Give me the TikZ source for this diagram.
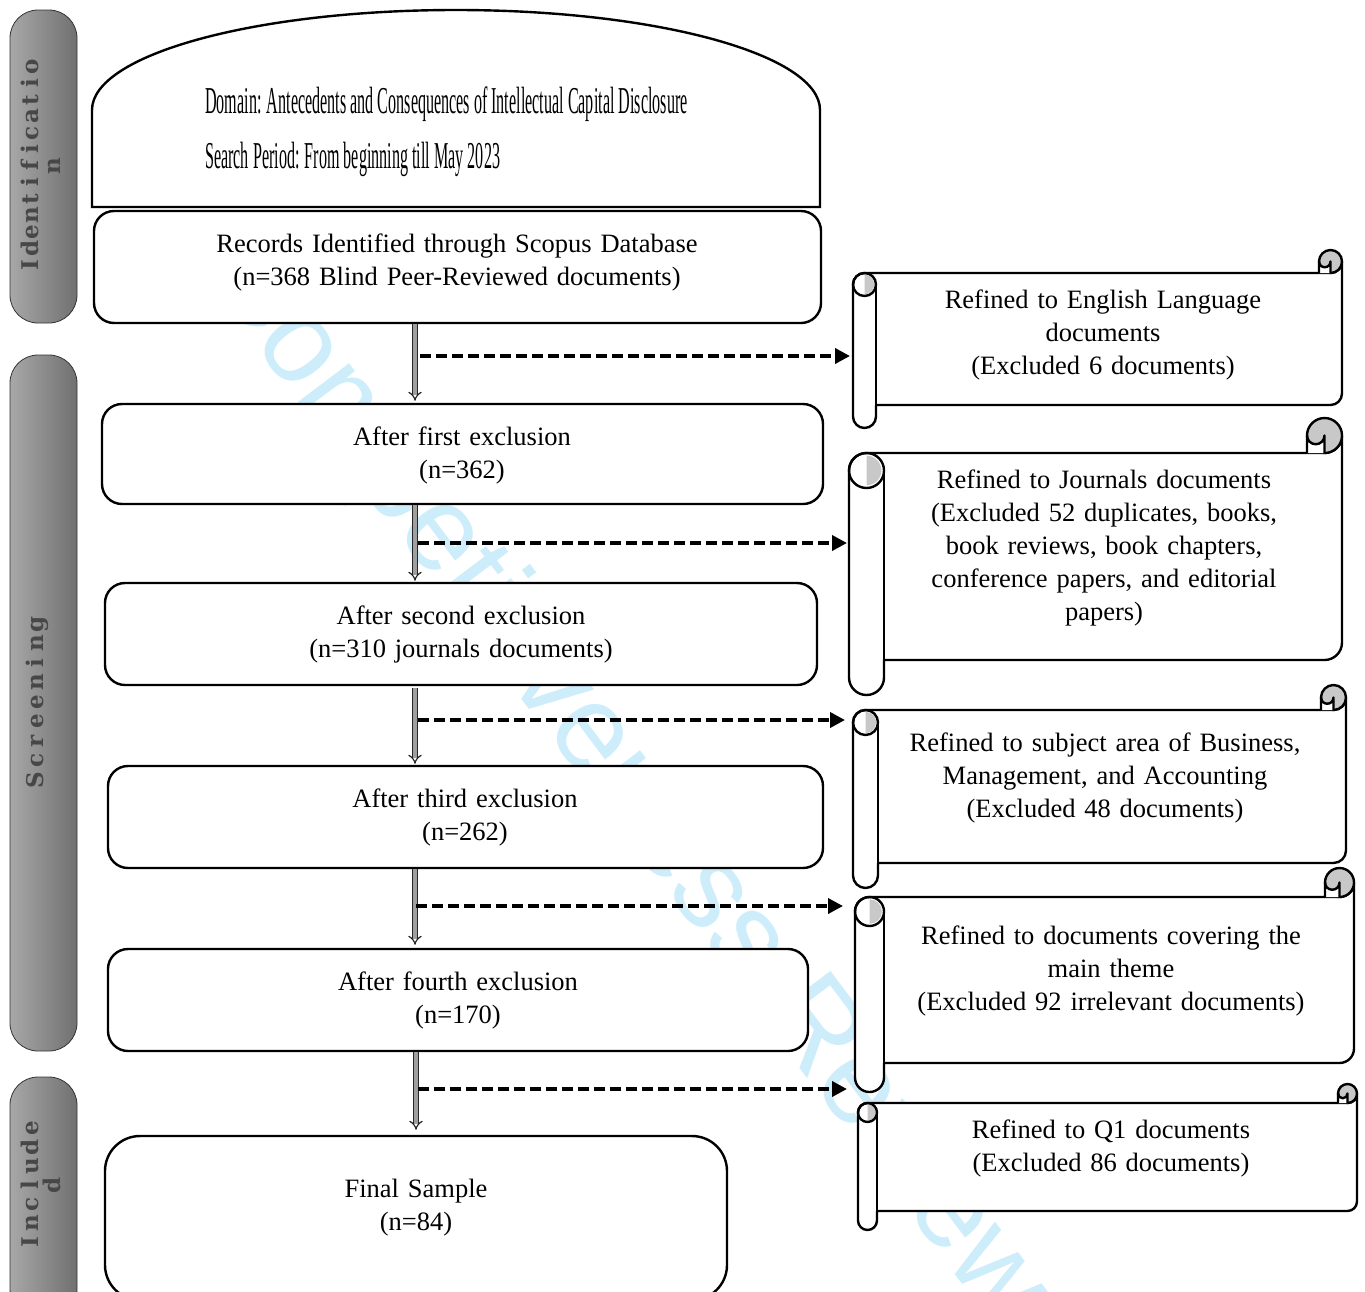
\documentclass[tikz,border=0pt]{standalone}
\usepackage{fontspec}
\setmainfont{Liberation Serif}
\newfontfamily\wmfont{Liberation Sans}
\newfontfamily\barfont{DejaVu Serif}
\usetikzlibrary{arrows.meta,calc}
\definecolor{barL}{RGB}{168,168,168}
\definecolor{barR}{RGB}{112,112,112}
\definecolor{wmcol}{RGB}{206,237,251}
\definecolor{rollgray}{RGB}{200,200,200}
\makeatletter
\newcommand\pitched[2]{\def\pcw{#1}\@tfor\pcc:=#2\do{\makebox[\pcw][c]{\pcc}}}
\makeatother
\newcommand\scrollshape[5]{%
  \pgfmathsetmacro\sL{#1}\pgfmathsetmacro\sT{#2}\pgfmathsetmacro\sR{#3}%
  \pgfmathsetmacro\sB{#4}\pgfmathsetmacro\sc{#5}\pgfmathsetmacro\sh{#5/2}%
  \draw[sline, fill=white] ({\sL},{\sT+\sc+\sh}) arc[start angle=180, end angle=270, radius=\sh]
    -- ({\sR-\sh},{\sT+\sc}) arc[start angle=90, end angle=0, radius=\sh]
    -- ({\sR},{\sB-\sc-\sh}) arc[start angle=0, end angle=90, radius=\sh]
    -- ({\sL+\sc},{\sB-\sc}) -- ({\sL+\sc},{\sB-\sh})
    arc[start angle=0, end angle=180, radius=\sh] -- cycle;
  \fill[rollgray] ({\sL+\sh},{\sT+\sc+\sh*0.15}) arc[start angle=270, end angle=450, radius=\sh*0.85] -- cycle;
  \draw[sline] ({\sL+\sh},{\sT+\sc+\sh}) circle[radius=\sh];
  \draw[sline] ({\sL+\sc},{\sT+\sc+\sh}) -- ({\sL+\sc},{\sB-\sc});
  \draw[sline, fill=rollgray] ({\sR-\sh},{\sT+\sh}) circle[radius=\sh];
  \draw[sline, fill=white] ({\sR-\sc},{\sT+\sc}) -- ({\sR-\sc},{\sT+\sh})
    arc[start angle=180, end angle=0, radius=\sh/2] -- ({\sR-\sh},{\sT+\sc});
}
\begin{document}
\begin{tikzpicture}[x=1pt,y=-1pt,
  lbox/.style={draw, line width=2.4pt, fill=white, rounded corners=20pt, inner sep=0pt},
  txt/.style={font=\fontsize{26.5}{33}\selectfont, text width=720pt, align=center, anchor=base, inner sep=0pt},
  hdr/.style={font=\fontsize{38}{38}\selectfont, anchor=base west, inner sep=0pt},
  bar/.style={draw=black!80, line width=0.8pt, rounded corners=28pt, left color=barL, right color=barR, inner sep=0pt},
  bartxt/.style={rotate=90, font=\barfont\bfseries\fontsize{23}{22}\selectfont, text=black!72, align=center, inner sep=0pt},
  vconn/.style={draw=black!85, line width=1.2pt, double=gray!75, double distance=3.4pt, -Implies},
  dconn/.style={line width=3.6pt, dash pattern=on 11pt off 5pt, -{Triangle[length=15pt,width=15pt]}},
  sline/.style={line width=2.4pt, line join=round},
  wm/.style={anchor=base west, rotate=-53, font=\wmfont\fontsize{121}{121}\selectfont, text=wmcol, inner sep=0pt}
]
\clip (0,0) rectangle (1365,1291);
\useasboundingbox (0,0) rectangle (1365,1291);

% watermark
\node[wm] (wmark) at (200,272) {Competitiveness Review};

% side bars
\node[bar, minimum width=67pt, minimum height=313pt] (bar1) at (43.5,166.5) {};
\node[bar, minimum width=67pt, minimum height=696pt] (bar2) at (43.5,703) {};
\node[bar, minimum width=67pt, minimum height=240pt] (bar3) at (43.5,1197) {};
\node[bartxt] (bt1) at (40.5,166) {\pitched{16.5pt}{Identificatio}\\\pitched{16.5pt}{n}};
\node[bartxt] (bt2) at (37,702) {\pitched{19.5pt}{Screening}};
\node[bartxt] (bt3) at (40.5,1185) {\pitched{19pt}{Include}\\\pitched{19pt}{d}};

% header dome
\draw[line width=2.4pt, fill=white] (92,207) -- (92,110)
  arc[start angle=180, end angle=360, x radius=364, y radius=100] -- (820,207) -- cycle;
\node[hdr] (h1) at (205,113) {\scalebox{0.424}[1]{Domain: Antecedents and Consequences of Intellectual Capital Disclosure}};
\node[hdr] (h2) at (205,168) {\scalebox{0.424}[1]{Search Period: From beginning till May 2023}};

% left boxes
\node[lbox, minimum width=727pt, minimum height=112pt] (b1) at (457.5,267) {};
\node[lbox, minimum width=721pt, minimum height=100pt] (b2) at (462.5,454) {};
\node[lbox, minimum width=712pt, minimum height=102pt] (b3) at (461,634) {};
\node[lbox, minimum width=715pt, minimum height=102pt] (b4) at (465.5,817) {};
\node[lbox, minimum width=700pt, minimum height=102pt] (b5) at (458,1000) {};
\node[lbox, rounded corners=35pt, minimum width=622pt, minimum height=164pt] (b6) at (416,1218) {};

\node[txt] (t1) at (457,252) {Records Identified through Scopus Database\\(n=368 Blind Peer-Reviewed documents)};
\node[txt] (t2) at (462,445) {After first exclusion\\(n=362)};
\node[txt] (t3) at (461,624) {After second exclusion\\(n=310 journals documents)};
\node[txt] (t4) at (465,807) {After third exclusion\\(n=262)};
\node[txt] (t5) at (458,990) {After fourth exclusion\\(n=170)};
\node[txt] (t6) at (416,1197) {Final Sample\\(n=84)};

% scrolls
\scrollshape{853}{250}{1342}{428}{23}
\scrollshape{849}{418}{1342}{695}{35}
\scrollshape{853}{685}{1346}{888}{25}
\scrollshape{855}{868}{1354}{1092}{29}
\scrollshape{858}{1084}{1357}{1230}{19}

\node[txt, text width=500pt] (s1) at (1103,308) {Refined to English Language\\documents\\(Excluded 6 documents)};
\node[txt, text width=500pt] (s2) at (1104,488) {Refined to Journals documents\\(Excluded 52 duplicates, books,\\book reviews, book chapters,\\conference papers, and editorial\\papers)};
\node[txt, text width=500pt] (s3) at (1105,751) {Refined to subject area of Business,\\Management, and Accounting\\(Excluded 48 documents)};
\node[txt, text width=500pt] (s4) at (1111,944) {Refined to documents covering the\\main theme\\(Excluded 92 irrelevant documents)};
\node[txt, text width=500pt] (s5) at (1111,1138) {Refined to Q1 documents\\(Excluded 86 documents)};

% vertical connectors
\coordinate (ax) at (415,0);
\coordinate (ax5) at (416,0);
\draw[vconn] (b1.south -| ax) -- ($(b2.north -| ax)+(0,-2)$);
\draw[vconn] (b2.south -| ax) -- ($(b3.north -| ax)+(0,-1)$);
\draw[vconn] ($(b3.south -| ax)+(0,2)$) -- ($(b4.north -| ax)+(0,-1)$);
\draw[vconn] (b4.south -| ax) -- ($(b5.north -| ax)+(0,-3)$);
\draw[vconn] (b5.south -| ax5) -- ($(b6.north -| ax5)+(0,-5)$);

% dashed connectors
\coordinate (j1) at (420,356);  \coordinate (e1) at (850,356);
\coordinate (j2) at (418,543);  \coordinate (e2) at (847,543);
\coordinate (j3) at (418,720);  \coordinate (e3) at (845,720);
\coordinate (j4) at (416,906);  \coordinate (e4) at (843,906);
\coordinate (j5) at (418,1089); \coordinate (e5) at (847,1089);
\draw[dconn] (j1) -- (e1);
\draw[dconn] (j2) -- (e2);
\draw[dconn] (j3) -- (e3);
\draw[dconn] (j4) -- (e4);
\draw[dconn] (j5) -- (e5);
\end{tikzpicture}
\end{document}
